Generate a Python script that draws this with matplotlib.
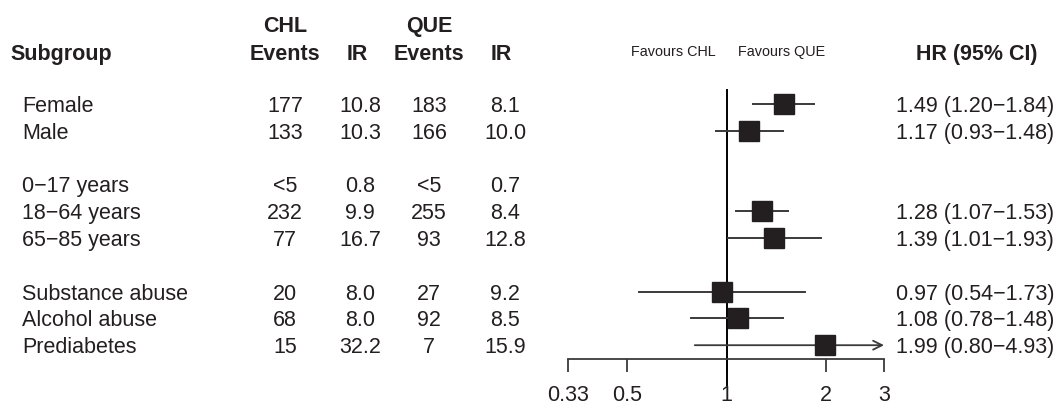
import matplotlib
matplotlib.use("Agg")
import matplotlib.pyplot as plt
import matplotlib.transforms as mtransforms
import numpy as np

plt.rcParams['font.family'] = ['Liberation Sans', 'DejaVu Sans']

# Data
subgroups = ['Female', 'Male', '0\u221217 years', '18\u221264 years', '65\u221285 years',
             'Substance abuse', 'Alcohol abuse', 'Prediabetes']
group_block = [0, 0, 1, 1, 1, 2, 2, 2]
chl_events = ['177', '133', '<5', '232', '77', '20', '68', '15']
chl_ir = [10.8, 10.3, 0.8, 9.9, 16.7, 8.0, 8.0, 32.2]
que_events = ['183', '166', '<5', '255', '93', '27', '92', '7']
que_ir = [8.1, 10.0, 0.7, 8.4, 12.8, 9.2, 8.5, 15.9]
hr = [1.49, 1.17, np.nan, 1.28, 1.39, 0.97, 1.08, 1.99]
hr_lo = [1.20, 0.93, np.nan, 1.07, 1.01, 0.54, 0.78, 0.80]
hr_hi = [1.84, 1.48, np.nan, 1.53, 1.93, 1.73, 1.48, 4.93]
x_ticks = [0.33, 0.5, 1, 2, 3]
x_ticklabels = ['0.33', '0.5', '1', '2', '3']

W, H = 1062, 407
fig = plt.figure(figsize=(W / 100, H / 100), dpi=100)

# forest panel placed in pixel terms, rows share its y scale
x0, x1 = 568, 884
row0, step = 104, 26.8
ax = fig.add_axes([x0 / W, 0, (x1 - x0) / W, 1])
ax.set_xscale('log')
ax.set_xlim(x_ticks[0], x_ticks[-1])
ax.set_ylim((H - row0) / step, -row0 / step)
ax.patch.set_alpha(0)

rows = [i + b for i, b in enumerate(group_block)]
ink = '#231f20'
line_c = '#3a3a3a'
fs = 15.5

# reference line at HR = 1
ax.plot([1, 1], [(90 - row0) / step, (385 - row0) / step], color='black', lw=1.4,
        clip_on=False, zorder=2)

xmax = x_ticks[-1]
for y, h, lo, hi in zip(rows, hr, hr_lo, hr_hi):
    if np.isnan(h):
        continue
    if hi > xmax:
        ax.annotate('', xy=(xmax, y), xytext=(lo, y),
                    arrowprops=dict(arrowstyle='->', color=line_c, lw=1.3,
                                    shrinkA=0, shrinkB=0, mutation_scale=16),
                    annotation_clip=False, zorder=3)
    else:
        ax.plot([lo, hi], [y, y], color=line_c, lw=1.4, zorder=3, clip_on=False)
    ax.plot([h], [y], marker='s', ms=14.5, color=ink, mec=ink, zorder=4, clip_on=False)

# x axis
for s in ['top', 'left', 'right']:
    ax.spines[s].set_visible(False)
ax.spines['bottom'].set_position(('data', 9.5))
ax.spines['bottom'].set_color(line_c)
ax.spines['bottom'].set_linewidth(1.3)
ax.set_xticks(x_ticks)
ax.set_xticklabels(x_ticklabels)
ax.xaxis.set_minor_locator(matplotlib.ticker.NullLocator())
ax.tick_params(axis='x', direction='out', length=9.5, width=1.3, color=line_c,
               labelsize=fs, pad=9.5, labelcolor=ink)
ax.set_yticks([])

# table text: x in figure pixels, y in row units (small nudge down to match baseline)
tr = mtransforms.blended_transform_factory(fig.transFigure, ax.transData)
nudge = 2.5 / step


def put(xpx, y, s, ha='center', weight='normal', size=fs):
    fig.text(xpx / W, y + nudge, s, transform=tr, ha=ha, va='center', fontsize=size,
             fontweight=weight, color=ink)


hdr1, hdr2 = (24 - row0) / step, (52 - row0) / step
put(10, hdr2, 'Subgroup', ha='left', weight='bold')
put(285, hdr1, 'CHL', weight='bold')
put(285, hdr2, 'Events', weight='bold')
put(357, hdr2, 'IR', weight='bold')
put(429, hdr1, 'QUE', weight='bold')
put(429, hdr2, 'Events', weight='bold')
put(501, hdr2, 'IR', weight='bold')
put(977, hdr2, 'HR (95% CI)', weight='bold')
put(673, (50 - row0) / step, 'Favours CHL', size=10.4)
put(782, (50 - row0) / step, 'Favours QUE', size=10.4)

for y, name, ce, ci, qe, qi, h, lo, hi in zip(rows, subgroups, chl_events, chl_ir,
                                              que_events, que_ir, hr, hr_lo, hr_hi):
    put(22, y, name, ha='left')
    put(285, y, ce)
    put(360, y, f'{ci:.1f}')
    put(429, y, qe)
    put(505, y, f'{qi:.1f}')
    if not np.isnan(h):
        put(975, y, f'{h:.2f} ({lo:.2f}\u2212{hi:.2f})')

fig.savefig('out.png', dpi=100, facecolor='white')
